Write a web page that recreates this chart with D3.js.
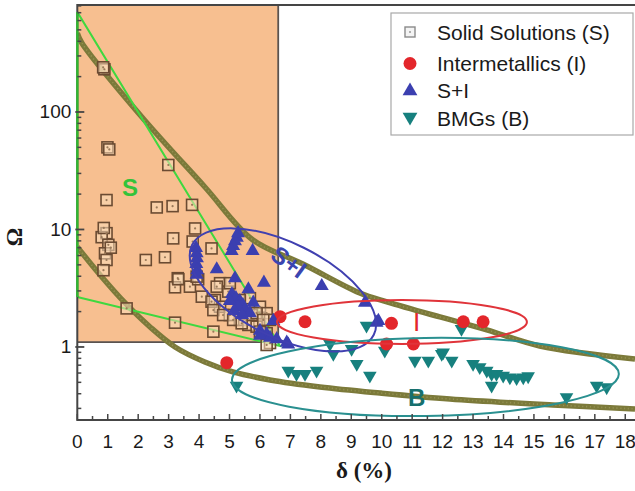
<!DOCTYPE html>
<html>
<head>
<meta charset="utf-8">
<script src="https://cdn.jsdelivr.net/npm/d3@7"></script>
<style>
  html, body { margin: 0; padding: 0; background: #fff; }
  svg { display: block; font-family: "Liberation Sans", Arial, sans-serif; }
</style>
</head>
<body>
<svg id="chart" width="635" height="491"></svg>
<script>
// --- Data (δ in %, Ω) ---
const solidSolutions = [
  [0.89, 231], [0.85, 240], [0.99, 50], [1.05, 48], [2.99, 35.4], [0.96, 17.8],
  [2.61, 15.4], [3.13, 15.8], [3.77, 16.2], [0.96, 9.3], [0.80, 8.6], [1.02, 7.4],
  [0.91, 6.27], [0.96, 5.5], [0.86, 4.5], [3.15, 8.4], [2.25, 5.5], [2.88, 5.8],
  [3.30, 3.85], [3.21, 3.22], [3.70, 3.26], [1.62, 2.13], [3.21, 1.61], [3.87, 10.2],
  [3.79, 7.9], [4.41, 6.9], [3.32, 3.77], [3.97, 3.77], [4.09, 2.68], [4.52, 2.51],
  [4.69, 3.49], [4.69, 2.2], [5.01, 1.87], [5.34, 1.70], [5.62, 1.54], [5.89, 1.49],
  [6.22, 1.31], [5.67, 2.6], [6.0, 2.2], [6.22, 1.94], [5.73, 1.87], [6.33, 1.70],
  [4.47, 1.35], [6.33, 1.08], [6.22, 1.04], [4.96, 2.96], [3.92, 3.97], [4.41, 2.43],
  [4.47, 2.06], [4.79, 1.87], [5.12, 1.70], [5.40, 1.59], [6.0, 1.35], [4.58, 3.26],
  [5.01, 3.49], [5.34, 2.51], [5.89, 1.94], [6.11, 1.70], [0.87, 10.3], [1.1, 7.0]
];
const intermetallics = [
  [6.66, 1.81], [7.48, 1.64], [10.32, 1.59], [10.16, 1.06], [11.04, 1.06],
  [12.68, 1.64], [13.33, 1.64], [4.91, 0.735]
];
const solidPlusInter = [
  [3.90, 7.1], [3.92, 6.4], [3.93, 5.8], [3.91, 5.2], [3.94, 4.6], [3.92, 4.2],
  [5.24, 8.7], [5.18, 8.1], [5.12, 7.4], [5.07, 6.7], [5.28, 9.5], [5.76, 6.7],
  [4.58, 4.68], [5.18, 3.92], [6.13, 3.6], [5.62, 3.16], [5.08, 2.88], [5.21, 2.66],
  [5.34, 2.51], [5.44, 2.32], [5.28, 2.23], [5.51, 2.10], [5.01, 2.51], [5.67, 1.98],
  [5.15, 2.07], [5.41, 1.91], [5.78, 2.43], [6.0, 1.40], [6.22, 1.31], [6.44, 1.70],
  [6.55, 1.19], [8.03, 3.37], [9.45, 2.43], [9.89, 1.70], [6.93, 1.07], [6.0, 1.27],
  [6.33, 1.22], [6.88, 1.11], [9.83, 1.64]
];
const bmgs = [
  [9.5, 1.49], [8.30, 1.04], [8.41, 0.855], [9.01, 0.943], [9.18, 0.703], [9.61, 0.558],
  [10.1, 0.912], [6.93, 0.616], [7.2, 0.578], [7.48, 0.578], [7.86, 0.616], [11.09, 0.75],
  [11.53, 0.75], [11.97, 0.855], [12.62, 1.40], [12.02, 0.88], [12.3, 0.75], [13.0, 0.703],
  [13.22, 0.659], [13.45, 0.616], [13.61, 0.578], [13.77, 0.578], [13.99, 0.559],
  [14.21, 0.541], [14.43, 0.531], [14.65, 0.541], [14.81, 0.552], [13.61, 0.459],
  [16.07, 0.366], [17.06, 0.459], [17.39, 0.445], [5.23, 0.459]
];

// olive boundary curves
const upperCurve = [
  [0, 470], [0.15, 387], [2.12, 90.7], [4.19, 23.0], [5.77, 8.14], [7.41, 5.09],
  [9.28, 2.88], [10.17, 2.42], [11.91, 1.80], [13.45, 1.40], [15.19, 1.02], [18.32, 0.79]
];
const lowerCurve = [
  [0, 7.10], [0.75, 4.10], [1.57, 2.37], [2.39, 1.48], [3.21, 1.0], [4.19, 0.745],
  [5.11, 0.613], [6.33, 0.524], [7.97, 0.457], [9.94, 0.406], [12.24, 0.361],
  [15.62, 0.321], [18.32, 0.297]
];
// green "S" triangle and the shaded criterion box
const sTriangle = [[0, 710], [0, 2.66], [6.66, 1.02]];
const criterionBox = { deltaMax: 6.6, omegaMin: 1.1 };

// region ellipses: major-axis end points (δ, Ω)
const regionEnds = [
  { name: 'S+I', a: [3.77, 7.37], b: [9.74, 1.27] },
  { name: 'I', a: [6.56, 1.63], b: [14.77, 1.63] },
  { name: 'B', a: [5.08, 0.524], b: [17.79, 0.589] }
];
const regionLabels = [
  { text: 'S', at: [1.73, 22.6] },
  { text: 'S+I', at: [6.95, 5.3] },
  { text: 'I', at: [11.15, 1.63] },
  { text: 'B', at: [11.15, 0.368] }
];
const xTicks = d3.range(0, 19);
const yTicks = [1, 10, 100];
const legendLabels = ['Solid Solutions (S)', 'Intermetallics (I)', 'S+I', 'BMGs (B)'];

// --- Layout ---
const W = 635, H = 491;
const margin = { left: 77.3, top: 5, right: 0, bottom: 71 };
const svg = d3.select('#chart');

const x = d3.scaleLinear().domain([0, 18.32]).range([margin.left, W - margin.right]);
const y = d3.scaleLog().domain([0.239, 814]).range([H - margin.bottom, margin.top]);

const col = {
  box: '#f7bf90',
  green: '#3fd83f',
  olive: '#7c7a3a',
  square: '#6b4b32',
  red: '#e3262b',
  blue: '#3b3fb0',
  teal: '#17807e',
  axis: '#454545'
};
const labelCol = { 'S': '#33c33a', 'S+I': '#3b45b0', 'I': '#e3262b', 'B': '#17706e' };
const ellCol = { 'S+I': '#4040b0', 'I': '#e0343a', 'B': '#2a9090' };

const clip = svg.append('defs').append('clipPath').attr('id', 'plot-clip')
  .append('rect')
  .attr('x', margin.left).attr('y', margin.top)
  .attr('width', W - margin.left).attr('height', H - margin.bottom - margin.top);

const plot = svg.append('g').attr('clip-path', 'url(#plot-clip)');

// shaded box (δ <= 6.6, Ω >= 1.1)
plot.append('rect')
  .attr('x', x(0)).attr('y', y(814))
  .attr('width', x(criterionBox.deltaMax) - x(0))
  .attr('height', y(criterionBox.omegaMin) - y(814))
  .attr('fill', col.box);
plot.append('path')
  .attr('d', `M${x(criterionBox.deltaMax)},${y(814)}V${y(criterionBox.omegaMin)}H${x(0)}`)
  .attr('fill', 'none').attr('stroke', '#5a5350').attr('stroke-width', 1.8);

// olive curves
const curveLine = d3.line().x(d => x(d[0])).y(d => y(d[1])).curve(d3.curveCatmullRom);
[upperCurve, lowerCurve].forEach(c => {
  plot.append('path').attr('d', curveLine(c))
    .attr('fill', 'none').attr('stroke', col.olive).attr('stroke-width', 5.5);
  plot.append('path').attr('d', curveLine(c))
    .attr('fill', 'none').attr('stroke', '#a3a263').attr('stroke-width', 1.6)
    .attr('stroke-dasharray', '1.2 2.6').attr('opacity', 0.6);
});

// green triangle
plot.append('path')
  .attr('d', d3.line().x(d => x(d[0])).y(d => y(d[1]))(sTriangle) + 'Z')
  .attr('fill', 'none').attr('stroke', col.green).attr('stroke-width', 2);

// markers
const sym = (type, size) => d3.symbol().type(type).size(size)();
const sq = plot.append('g');
sq.selectAll('rect').data(solidSolutions).join('rect')
  .attr('x', d => x(d[0]) - 5.5).attr('y', d => y(d[1]) - 5.5)
  .attr('width', 11).attr('height', 11)
  .attr('fill', 'rgba(250,220,185,0.55)')
  .attr('stroke', col.square).attr('stroke-width', 1.6);
sq.selectAll('circle').data(solidSolutions).join('circle')
  .attr('cx', d => x(d[0])).attr('cy', d => y(d[1])).attr('r', 1.1)
  .attr('fill', '#9a7a5a');

plot.append('g').selectAll('path').data(bmgs).join('path')
  .attr('d', sym(d3.symbolTriangle, 80))
  .attr('transform', d => `translate(${x(d[0])},${y(d[1]) - 1}) rotate(180)`)
  .attr('fill', col.teal);

plot.append('g').selectAll('circle').data(intermetallics).join('circle')
  .attr('cx', d => x(d[0])).attr('cy', d => y(d[1])).attr('r', 6.5)
  .attr('fill', col.red);

plot.append('g').selectAll('path').data(solidPlusInter).join('path')
  .attr('d', sym(d3.symbolTriangle, 85))
  .attr('transform', d => `translate(${x(d[0])},${y(d[1]) + 1})`)
  .attr('fill', col.blue);

// region ellipses
const halfWidth = { 'S+I': 47, 'I': 22, 'B': 39 };
regionEnds.forEach(r => {
  const ax = x(r.a[0]), ay = y(r.a[1]), bx = x(r.b[0]), by = y(r.b[1]);
  const cx = (ax + bx) / 2, cy = (ay + by) / 2;
  const rx = Math.hypot(bx - ax, by - ay) / 2;
  const ang = Math.atan2(by - ay, bx - ax) * 180 / Math.PI;
  plot.append('ellipse')
    .attr('cx', 0).attr('cy', 0).attr('rx', rx).attr('ry', halfWidth[r.name])
    .attr('transform', `translate(${cx},${cy}) rotate(${ang})`)
    .attr('fill', 'none').attr('stroke', ellCol[r.name]).attr('stroke-width', 2);
});

// region labels
regionLabels.forEach(l => {
  const t = plot.append('text')
    .attr('x', x(l.at[0])).attr('y', y(l.at[1]))
    .attr('text-anchor', 'middle').attr('dominant-baseline', 'central')
    .attr('font-size', 24).attr('font-weight', 'bold')
    .attr('fill', labelCol[l.text]).text(l.text);
  if (l.text === 'S+I') t.attr('transform', `rotate(36,${x(l.at[0])},${y(l.at[1])})`);
  if (l.text === 'I') t.attr('font-weight', 'normal').attr('font-size', 26);
});

// --- Axes ---
const axisG = svg.append('g');
const y0 = y(0.239), yTop = y(814);
axisG.append('path')
  .attr('d', `M${W},${yTop}H${x(0)}V${y0}H${W}`)
  .attr('fill', 'none').attr('stroke', col.axis).attr('stroke-width', 2);
// green overlay on the left axis (triangle edge)
axisG.append('line')
  .attr('x1', x(0)).attr('x2', x(0)).attr('y1', y(710)).attr('y2', y(2.66))
  .attr('stroke', '#2fb82f').attr('stroke-width', 2.2);

// x ticks (inside)
d3.range(0, 18.5, 0.5).forEach(v => {
  axisG.append('line')
    .attr('x1', x(v)).attr('x2', x(v))
    .attr('y1', y0).attr('y2', y0 - (v % 1 === 0 ? 6 : 4))
    .attr('stroke', col.axis).attr('stroke-width', 1.5);
});
axisG.selectAll('.xt').data(xTicks).join('text')
  .attr('x', d => x(d)).attr('y', y0 + 28)
  .attr('text-anchor', 'middle').attr('font-size', 19).attr('fill', '#1a1a1a')
  .text(d => d);

// y ticks (log, inside)
const minor = [];
[0.1, 1, 10, 100].forEach(dec => d3.range(2, 10).forEach(k => {
  const v = dec * k;
  if (v > 0.239 && v < 814) minor.push(v);
}));
minor.forEach(v => axisG.append('line')
  .attr('x1', x(0)).attr('x2', x(0) + 4).attr('y1', y(v)).attr('y2', y(v))
  .attr('stroke', col.axis).attr('stroke-width', 1.5));
yTicks.forEach(v => axisG.append('line')
  .attr('x1', x(0) - 2).attr('x2', x(0) + 7).attr('y1', y(v)).attr('y2', y(v))
  .attr('stroke', col.axis).attr('stroke-width', 1.8));
axisG.selectAll('.yt').data(yTicks).join('text')
  .attr('x', x(0) - 6).attr('y', d => y(d))
  .attr('text-anchor', 'end').attr('dominant-baseline', 'central')
  .attr('font-size', 19).attr('fill', '#1a1a1a')
  .text(d => d);

// axis titles
svg.append('text')
  .attr('x', 364).attr('y', 478)
  .attr('text-anchor', 'middle')
  .attr('font-family', '"Liberation Serif", "Times New Roman", serif')
  .attr('font-weight', 'bold').attr('font-size', 23).attr('fill', '#1a1a1a')
  .text('δ (%)');
svg.append('text')
  .attr('transform', 'translate(22,237) rotate(-90)')
  .attr('text-anchor', 'middle')
  .attr('font-family', '"Liberation Serif", "Times New Roman", serif')
  .attr('font-weight', 'bold').attr('font-size', 23).attr('fill', '#1a1a1a')
  .text('Ω');

// --- Legend ---
const lg = svg.append('g').attr('transform', 'translate(391,13)');
lg.append('rect').attr('width', 242).attr('height', 122)
  .attr('fill', '#fff').attr('stroke', '#a8a8a8').attr('stroke-width', 1.2);
const rowY = [19, 50.5, 77, 105];
legendLabels.forEach((t, i) => {
  const g = lg.append('g').attr('transform', `translate(19,${rowY[i]})`);
  if (i === 0) {
    g.append('rect').attr('x', -5).attr('y', -5).attr('width', 10).attr('height', 10)
      .attr('fill', '#f4f4f4').attr('stroke', '#8a8a8a').attr('stroke-width', 1.4);
    g.append('circle').attr('r', 1).attr('fill', '#999');
  } else if (i === 1) {
    g.append('circle').attr('r', 6.5).attr('fill', col.red);
  } else if (i === 2) {
    g.append('path').attr('d', sym(d3.symbolTriangle, 95)).attr('transform', 'translate(0,1)').attr('fill', col.blue);
  } else {
    g.append('path').attr('d', sym(d3.symbolTriangle, 95)).attr('transform', 'translate(0,-1) rotate(180)').attr('fill', col.teal);
  }
  g.append('text').attr('x', 27).attr('y', 0)
    .attr('dominant-baseline', 'central')
    .attr('font-size', 21).attr('fill', '#1a1a1a').text(t);
});
</script>
</body>
</html>
